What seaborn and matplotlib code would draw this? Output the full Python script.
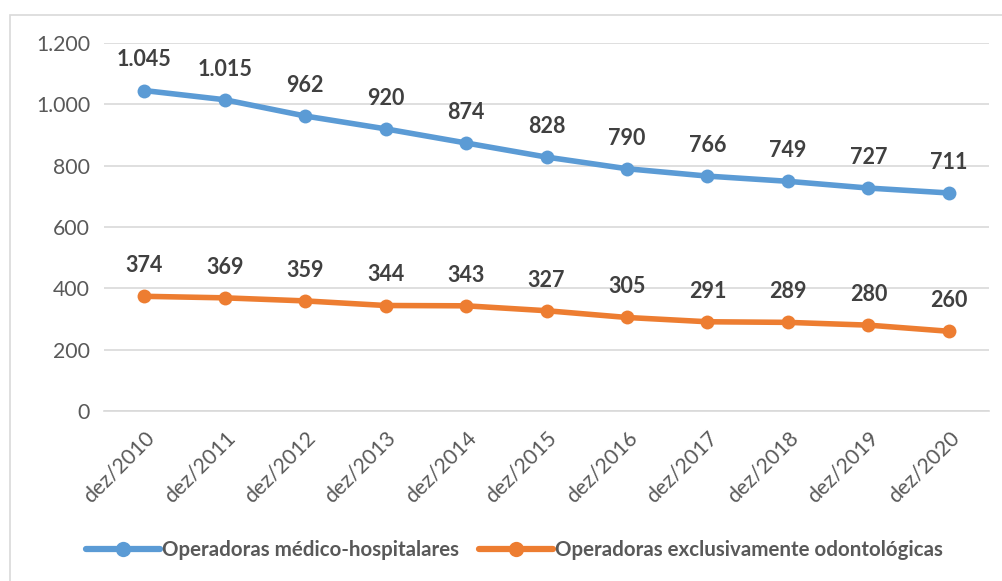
import matplotlib
matplotlib.use("Agg")
import matplotlib.pyplot as plt
import seaborn as sns
import pandas as pd
from matplotlib.lines import Line2D
from matplotlib.patches import Rectangle

categories = ["dez/2010", "dez/2011", "dez/2012", "dez/2013", "dez/2014", "dez/2015",
              "dez/2016", "dez/2017", "dez/2018", "dez/2019", "dez/2020"]
medico = [1045, 1015, 962, 920, 874, 828, 790, 766, 749, 727, 711]
odonto = [374, 369, 359, 344, 343, 327, 305, 291, 289, 280, 260]
series_names = ["Operadoras médico-hospitalares", "Operadoras exclusivamente odontológicas"]
yticks = [0, 200, 400, 600, 800, 1000, 1200]

colors = ["#5B9BD5", "#ED7D31"]
text_color = "#595959"

sns.set_theme(style="white")
plt.rcParams['font.family'] = ['Lato', 'DejaVu Sans']

df = pd.DataFrame({
    "cat": categories * 2,
    "x": list(range(len(categories))) * 2,
    "value": medico + odonto,
    "serie": [series_names[0]] * len(categories) + [series_names[1]] * len(categories),
})

fig = plt.figure(figsize=(10.03, 5.81), dpi=100)
fig.patches.append(Rectangle((10 / 1003, -0.1), 1.2, 1 - 15 / 581 + 0.1, transform=fig.transFigure,
                             fill=False, edgecolor="#D9D9D9", linewidth=1.2, zorder=0))
ax = fig.add_axes([104 / 1003, 1 - 411 / 581, (989 - 104) / 1003, (411 - 43) / 581])

sns.lineplot(data=df, x="x", y="value", hue="serie", palette=colors, ax=ax,
             marker="o", markersize=10, markeredgewidth=0, linewidth=4, legend=False,
             sort=False)

ax.set_xlim(-0.5, len(categories) - 0.5)
ax.set_ylim(0, 1200)
ax.set_yticks(yticks)
ax.set_yticklabels([f"{v:,}".replace(",", ".") for v in yticks], color=text_color, fontsize=15.3)
ax.set_xticks(range(len(categories)))
ax.set_xticklabels(categories, rotation=45, ha="right", rotation_mode="anchor",
                   color=text_color, fontsize=15.3)
ax.tick_params(axis="both", length=0, pad=10)
ax.tick_params(axis="x", pad=12)
ax.grid(axis="y", color="#D9D9D9", linewidth=1.2)
ax.set_axisbelow(True)
for s in ["top", "right", "left"]:
    ax.spines[s].set_visible(False)
ax.spines["bottom"].set_color("#D9D9D9")
ax.spines["bottom"].set_linewidth(1.2)
ax.set_xlabel("")
ax.set_ylabel("")

for vals in (medico, odonto):
    for i, v in enumerate(vals):
        ax.annotate(f"{v:,}".replace(",", "."), (i, v), xytext=(0, 22), textcoords="offset points",
                    ha="center", va="center", fontsize=15.5, fontweight="bold", color="#404040")

handles = [Line2D([], [], color=c, marker="o", markersize=11, markeredgewidth=0, linewidth=4.5)
           for c in colors]
fig.legend(handles, series_names, loc="center", bbox_to_anchor=(0.513, 1 - 550 / 581), ncol=2,
           frameon=False, handlelength=3.6, handletextpad=0.1, columnspacing=1.0,
           prop={"size": 14.8, "weight": "bold"}, labelcolor=text_color)

fig.savefig("out.png", dpi=100)
